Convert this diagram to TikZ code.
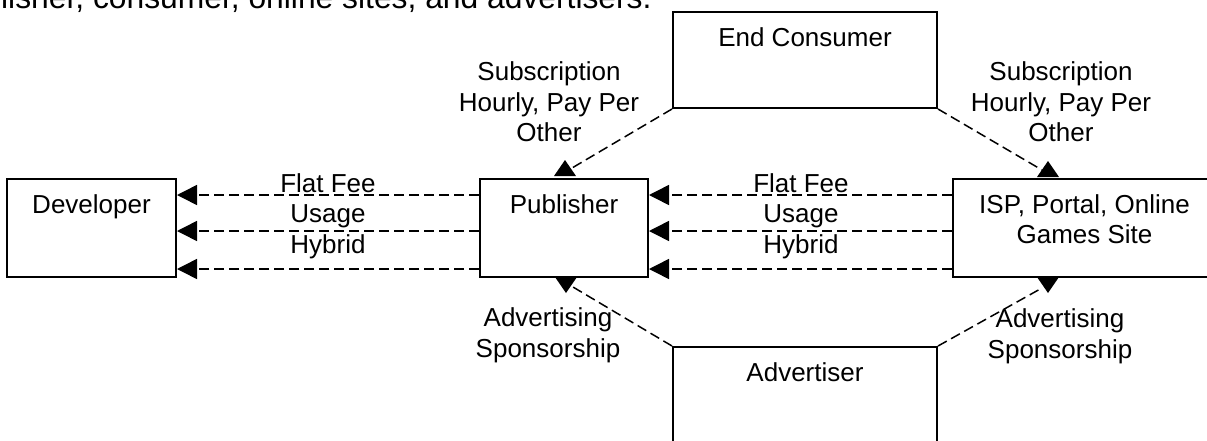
\documentclass[tikz,border=0pt]{standalone}
\usepackage{fontspec}
\setmainfont{Liberation Sans}
\usetikzlibrary{arrows.meta}

\begin{document}
\begin{tikzpicture}[x=0.5pt, y=-0.5pt,
  every node/.style={font=\fontsize{13}{15.25}\selectfont, inner sep=0pt},
  party/.style={draw, line width=1pt, minimum height=49pt},
  boxtitle/.style={anchor=base, yshift=-17.5pt, align=center},
  terms/.style={anchor=base, align=center},
  flow/.style={dash pattern=on 5pt off 2.5pt, line width=0.75pt},
  fee/.style={flow, -{Triangle[length=10pt, width=10pt]}},
  tipup/.pic={\fill (-11,0) -- (11,0) -- (0,-16) -- cycle;},
  tipdown/.pic={\fill (-11,0) -- (11,0) -- (0,16) -- cycle;}]
  \clip (0,0) rectangle (1207,440);
  % text of the page above, cut off
  \node[anchor=base east, font=\fontsize{15.9}{19}\selectfont] (intro) at (652,8) {lisher, consumer, online sites, and advertisers.};
  % the parties
  \node[party, minimum width=84.5pt] (dev) at (91.5,228) {};
  \node[party, minimum width=84pt] (pub) at (564,228) {};
  \node[party, minimum width=131.5pt] (isp) at (1084.5,228) {};
  \node[party, minimum width=132pt, minimum height=48pt] (ec) at (805,60) {};
  \node[party, minimum width=132pt] (adv) at (805,396) {};
  \node[boxtitle] (devname) at (dev.north) {Developer};
  \node[boxtitle] (pubname) at (pub.north) {Publisher};
  \node[boxtitle, yshift=-15.25pt] (ispname) at (isp.north) {ISP, Portal, Online\\Games Site};
  \node[boxtitle] (ecname) at (ec.north) {End Consumer};
  \node[boxtitle] (advname) at (adv.north) {Advertiser};
  % fees paid along the chain
  \foreach \y in {195,231,269} {
    \draw[fee] (pub.west |- 0,\y) -- (dev.east |- 0,\y);
    \draw[fee] (isp.west |- 0,\y) -- (pub.east |- 0,\y);
  }
  \node[terms] (feesL) at (328,253) {Flat Fee\\Usage\\Hybrid};
  \node[terms] (feesR) at (801,253) {Flat Fee\\Usage\\Hybrid};
  % consumer payments
  \coordinate (ecpub) at (572,168);
  \coordinate (ecisp) at (1042,170);
  \draw[flow] (ec.south west) -- (ecpub);
  \draw[flow] (ec.south east) -- (ecisp);
  \pic at (565,176) {tipup};
  \pic at (1048,177) {tipup};
  \node[terms] (subL) at (549,141.5) {Subscription\\Hourly, Pay Per\\Other};
  \node[terms] (subR) at (1061,141.5) {Subscription\\Hourly, Pay Per\\Other};
  % advertiser payments
  \coordinate (advpub) at (573,287);
  \coordinate (advisp) at (1042,288);
  \draw[flow] (adv.north west) -- (advpub);
  \draw[flow] (adv.north east) -- (advisp);
  \pic at (566,277) {tipdown};
  \pic at (1048,277) {tipdown};
  \node[terms] (adsL) at (548,357) {Advertising\\Sponsorship};
  \node[terms] (adsR) at (1060,358) {Advertising\\Sponsorship};
\end{tikzpicture}
\end{document}
